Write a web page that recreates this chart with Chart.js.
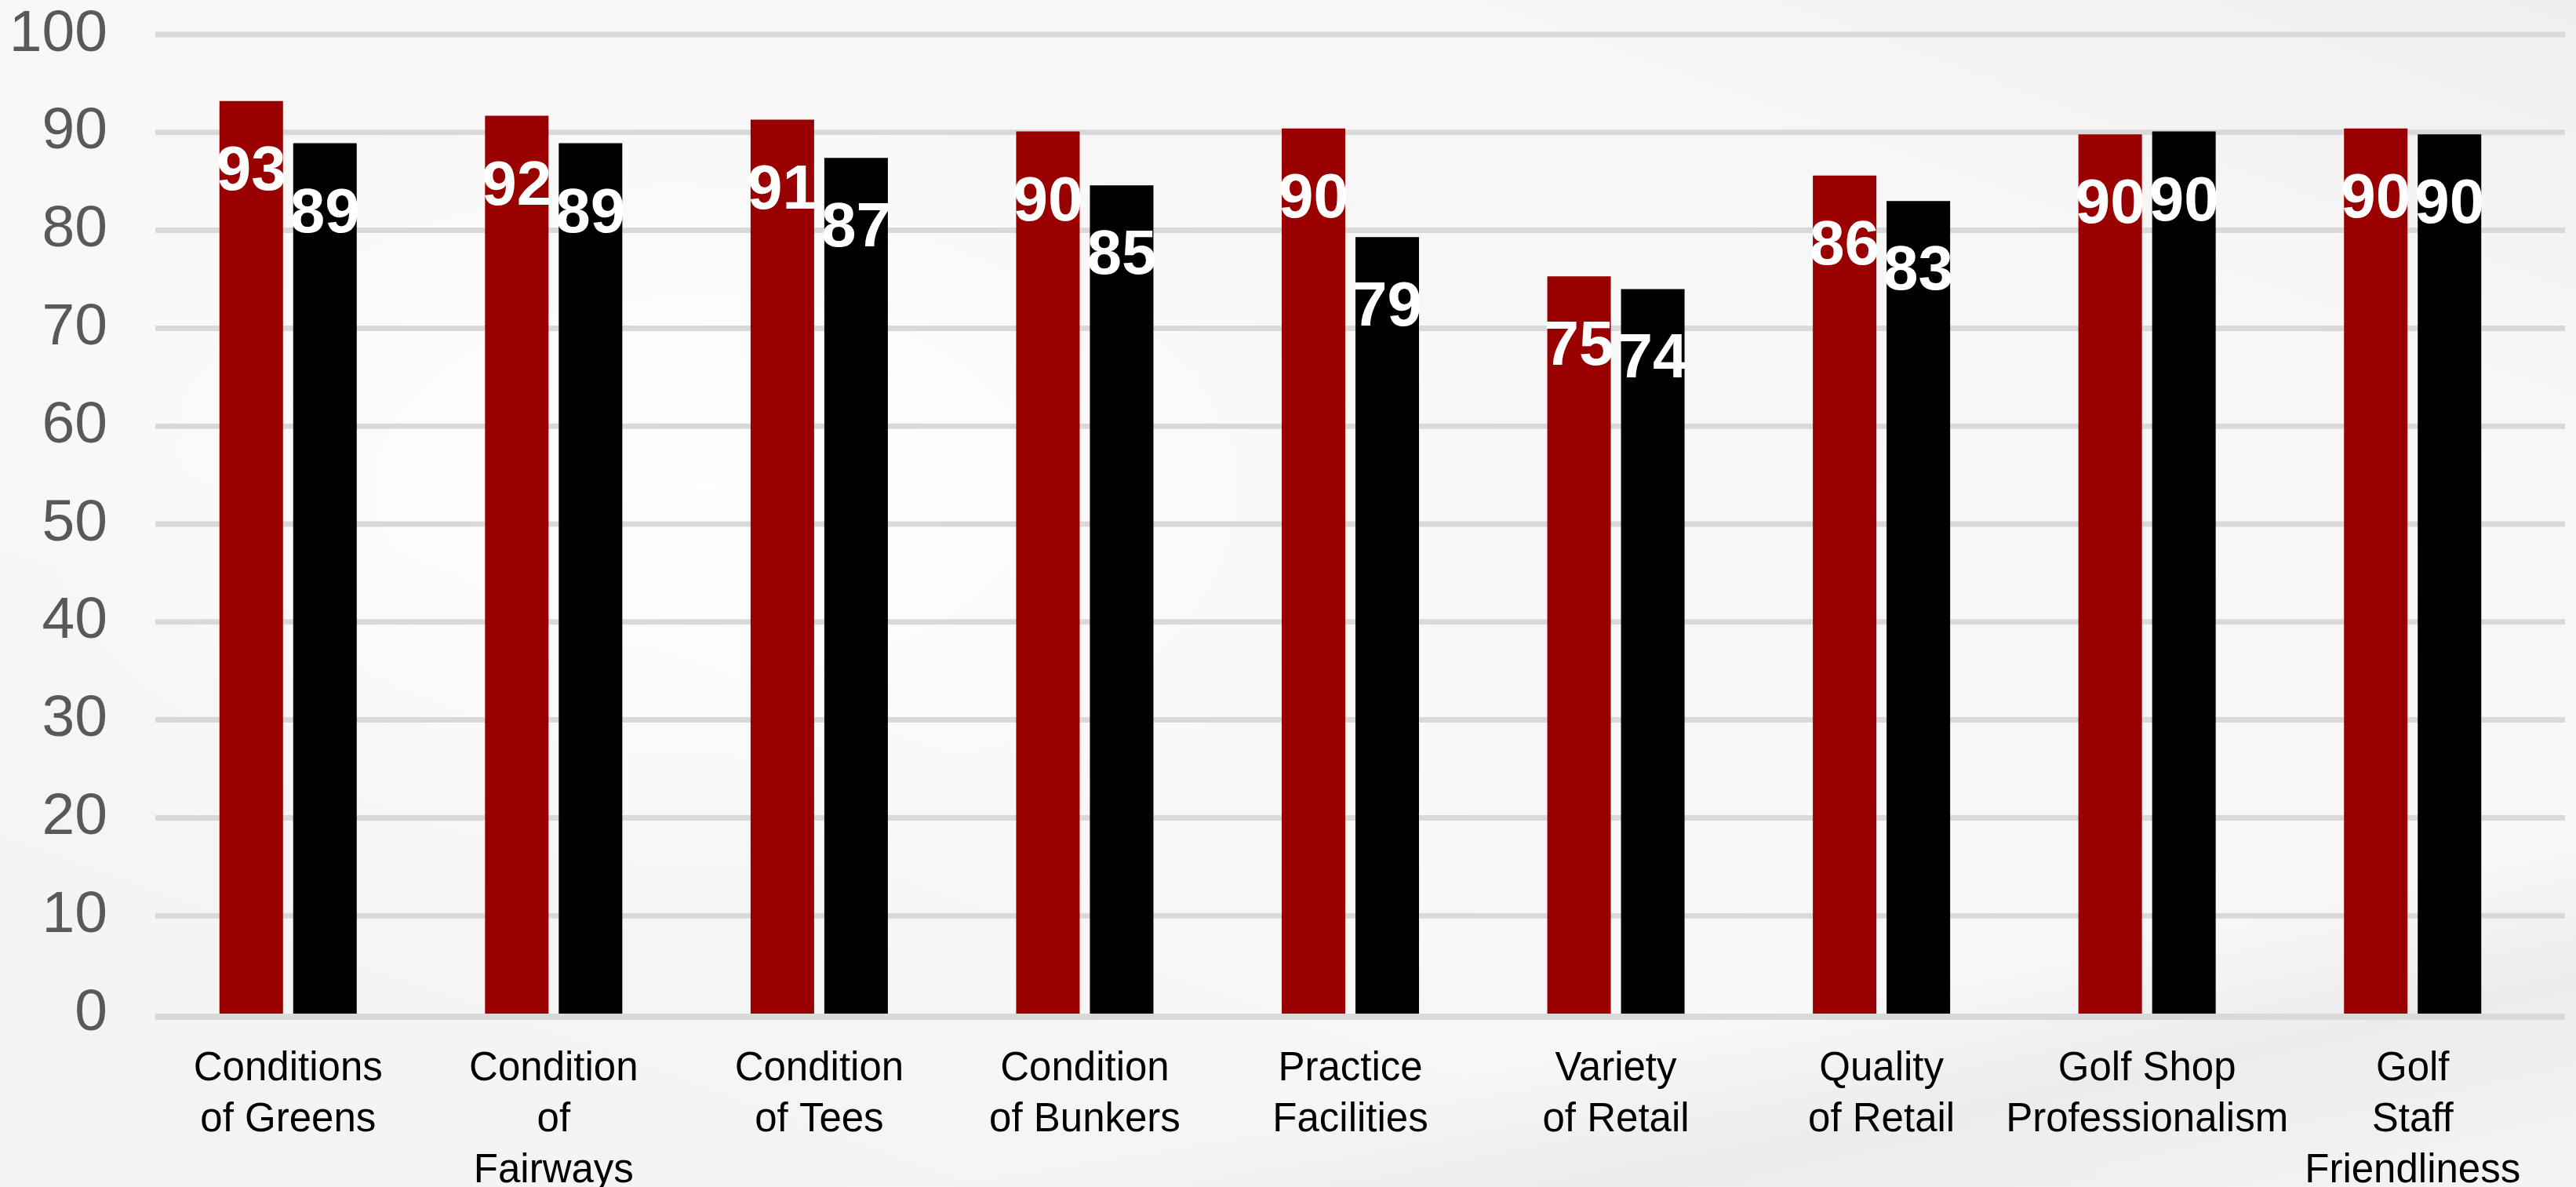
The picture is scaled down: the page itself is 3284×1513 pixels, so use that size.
<!DOCTYPE html>
<html>
<head>
<meta charset="utf-8">
<script src="https://cdn.jsdelivr.net/npm/chart.js@4/dist/chart.umd.min.js"></script>
<style>
  html, body { margin: 0; padding: 0; }
  body {
    width: 3284px; height: 1513px; overflow: hidden;
    background:
      radial-gradient(ellipse 900px 520px at 900px 620px, rgba(255,255,255,0.95), rgba(255,255,255,0) 100%),
      linear-gradient(168deg, rgba(255,255,255,0) 0%, rgba(255,255,255,0) 80%, rgba(228,228,228,0.6) 88%, rgba(238,238,238,0.35) 100%),
      linear-gradient(200deg, #efefef 0%, #f7f7f7 20%, #f8f8f8 60%, #f2f2f2 100%);
  }
  #wrap { position: absolute; left: 0; top: 0; width: 3284px; height: 1513px; }
</style>
</head>
<body>
<div id="wrap"><canvas id="c" width="3284" height="1513"></canvas></div>
<script>
const categories = [
  ["Conditions", "of Greens"],
  ["Condition", "of", "Fairways"],
  ["Condition", "of Tees"],
  ["Condition", "of Bunkers"],
  ["Practice", "Facilities"],
  ["Variety", "of Retail"],
  ["Quality", "of Retail"],
  ["Golf Shop", "Professionalism"],
  ["Golf", "Staff", "Friendliness"]
];
const seriesRed = [93.2, 91.7, 91.3, 90.1, 90.4, 75.3, 85.6, 89.8, 90.4];
const seriesBlack = [88.9, 88.9, 87.4, 84.6, 79.3, 74.0, 83.0, 90.1, 89.8];
const yTicks = [0, 10, 20, 30, 40, 50, 60, 70, 80, 90, 100];

const FONT = '"Liberation Sans", Arial, Helvetica, sans-serif';
const GRID_COLOR = '#d9d9d9';

const gridPlugin = {
  id: 'extGrid',
  beforeDatasetsDraw(chart) {
    const { ctx, chartArea, scales } = chart;
    ctx.save();
    ctx.strokeStyle = GRID_COLOR;
    ctx.lineWidth = 7;
    yTicks.forEach(v => {
      if (v === 0) return;
      const y = scales.y.getPixelForValue(v);
      ctx.beginPath();
      ctx.moveTo(chartArea.left, y);
      ctx.lineTo(chartArea.right + 25, y);
      ctx.stroke();
    });
    ctx.restore();
  },
  afterDatasetsDraw(chart) {
    const { ctx, chartArea, scales } = chart;
    ctx.save();
    ctx.strokeStyle = GRID_COLOR;
    ctx.lineWidth = 8;
    const y = scales.y.getPixelForValue(0) + 4;
    ctx.beginPath();
    ctx.moveTo(chartArea.left, y);
    ctx.lineTo(chartArea.right + 25, y);
    ctx.stroke();
    // value labels
    ctx.font = 'bold 80px ' + FONT;
    ctx.fillStyle = '#ffffff';
    ctx.textAlign = 'center';
    ctx.textBaseline = 'alphabetic';
    chart.data.datasets.forEach((ds, i) => {
      chart.getDatasetMeta(i).data.forEach((bar, j) => {
        ctx.fillText(String(Math.round(ds.data[j])), bar.x, bar.y + 113);
      });
    });
    ctx.restore();
  }
};

new Chart(document.getElementById('c'), {
  type: 'bar',
  data: {
    labels: categories,
    datasets: [
      { label: 'Series 1', data: seriesRed, backgroundColor: '#990000', categoryPercentage: 0.5553, barPercentage: 0.8617 },
      { label: 'Series 2', data: seriesBlack, backgroundColor: '#000000', categoryPercentage: 0.5553, barPercentage: 0.8617 }
    ]
  },
  options: {
    responsive: false,
    animation: false,
    devicePixelRatio: 1,
    layout: { padding: { top: 44, right: 39, bottom: 0, left: 0 } },
    plugins: { legend: { display: false }, tooltip: { enabled: false } },
    scales: {
      x: {
        grid: { display: false, drawTicks: false },
        border: { display: false },
        ticks: {
          color: '#000000',
          font: { family: FONT, size: 51, lineHeight: 1.28 },
          padding: 38,
          maxRotation: 0,
          autoSkip: false
        },
        afterFit(s) { s.height = 221; s.paddingLeft = 0; s.paddingRight = 0; }
      },
      y: {
        min: 0, max: 100,
        grid: { display: false, drawTicks: false },
        border: { display: false },
        ticks: {
          stepSize: 10,
          color: '#595959',
          font: { family: FONT, size: 75 },
          padding: 61
        },
        afterFit(s) { s.width = 198; s.paddingTop = 0; s.paddingBottom = 0; }
      }
    }
  },
  plugins: [gridPlugin]
});
</script>
</body>
</html>
